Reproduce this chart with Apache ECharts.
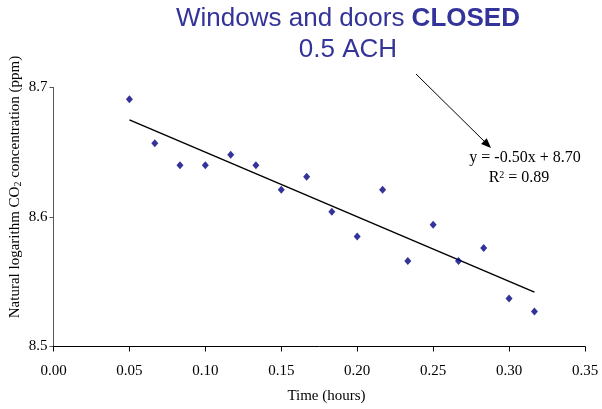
<!DOCTYPE html>
<html>
<head>
<meta charset="utf-8">
<script src="https://cdn.jsdelivr.net/npm/echarts@6/dist/echarts.min.js"></script>
<style>html,body{margin:0;padding:0;background:#fff}#c{width:602px;height:409px}</style>
</head>
<body>
<div id="c"></div>
<script>
// Data
var timeHours = [0.05, 0.0667, 0.0833, 0.10, 0.1167, 0.1333, 0.15, 0.1667, 0.1833, 0.20, 0.2167, 0.2333, 0.25, 0.2667, 0.2833, 0.30, 0.3167];
var lnCO2 = [8.691, 8.657, 8.640, 8.640, 8.648, 8.640, 8.621, 8.631, 8.604, 8.585, 8.621, 8.566, 8.594, 8.566, 8.576, 8.537, 8.527];
var trendX = [0.05, 0.3167];
var trendY = [8.675, 8.542];
var xTicks = ['0.00', '0.05', '0.10', '0.15', '0.20', '0.25', '0.30', '0.35'];
var yTicks = ['8.5', '8.6', '8.7'];

var serif = '"Liberation Serif", "Times New Roman", serif';
var sans = '"Liberation Sans", Arial, sans-serif';

var points = timeHours.map(function (t, i) { return [t, lnCO2[i]]; });
var trend = trendX.map(function (t, i) { return [t, trendY[i]]; });

var chart = echarts.init(document.getElementById('c'), null, {renderer: 'canvas'});
chart.setOption({
  animation: false,
  backgroundColor: '#fff',
  grid: {left: 53.5, right: 17, top: 87.5, bottom: 62.5, outerBoundsMode: 'none'},
  xAxis: {
    type: 'value', min: 0, max: 0.35, interval: 0.05,
    axisLine: {show: true, lineStyle: {color: '#000', width: 1}},
    axisTick: {show: true, length: 5, lineStyle: {color: '#000'}},
    splitLine: {show: false},
    axisLabel: {
      margin: 17, color: '#000', fontFamily: serif, fontSize: 15,
      formatter: function (v) { return xTicks[Math.round(v / 0.05)]; },
      showMaxLabel: true, showMinLabel: true
    }
  },
  yAxis: {
    type: 'value', min: 8.5, max: 8.7, interval: 0.1,
    axisLine: {show: true, lineStyle: {color: '#555', width: 1}},
    axisTick: {show: true, length: 4, lineStyle: {color: '#555'}},
    splitLine: {show: false},
    axisLabel: {
      margin: 6, color: '#000', fontFamily: serif, fontSize: 15,
      formatter: function (v) { return yTicks[Math.round((v - 8.5) / 0.1)]; }
    }
  },
  series: [
    {
      type: 'line', data: trend, symbol: 'none',
      lineStyle: {color: '#000', width: 1.5}, z: 2
    },
    {
      type: 'scatter', data: points, symbol: 'diamond', symbolSize: [7, 8],
      itemStyle: {color: '#000080'}, z: 3
    }
  ],
  graphic: [
    {type: 'text', x: 348, y: 19, style: {
      text: '{n|Windows and doors }{b|CLOSED}', align: 'center', verticalAlign: 'middle',
      rich: {
        n: {fontFamily: sans, fontSize: 26, fill: '#333399'},
        b: {fontFamily: sans, fontSize: 26, fontWeight: 'bold', fill: '#333399'}
      }
    }},
    {type: 'text', x: 348, y: 50, style: {
      text: '0.5 ACH', align: 'center', verticalAlign: 'middle',
      font: '26px ' + sans, fill: '#333399'
    }},
    {type: 'line', shape: {x1: 416, y1: 74, x2: 486, y2: 143}, style: {stroke: '#000', lineWidth: 1}},
    {type: 'polygon', shape: {points: [[491, 148], [481.1, 143.9], [486.7, 138.2]]}, style: {fill: '#000'}},
    {type: 'text', x: 525, y: 158, style: {
      text: 'y = -0.50x + 8.70', align: 'center', verticalAlign: 'middle',
      font: '16px ' + serif, fill: '#000'
    }},
    {type: 'text', x: 519, y: 178, style: {
      text: 'R{sup|2} = 0.89', align: 'center', verticalAlign: 'middle',
      font: '16px ' + serif, fill: '#000',
      rich: {sup: {fontFamily: serif, fontSize: 10, verticalAlign: 'top', padding: [0, 0, 6, 0]}}
    }},
    {type: 'text', x: 15, y: 187, rotation: Math.PI / 2, style: {
      text: 'Natural logarithm CO{sub|2} concentration (ppm)', align: 'center', verticalAlign: 'middle',
      font: '15px ' + serif, fill: '#000',
      rich: {sub: {fontFamily: serif, fontSize: 10, verticalAlign: 'bottom', padding: [6, 0, 0, 0]}}
    }},
    {type: 'text', x: 326.5, y: 396.5, style: {
      text: 'Time (hours)', align: 'center', verticalAlign: 'middle',
      font: '15px ' + serif, fill: '#000'
    }}
  ]
});
</script>
</body>
</html>
